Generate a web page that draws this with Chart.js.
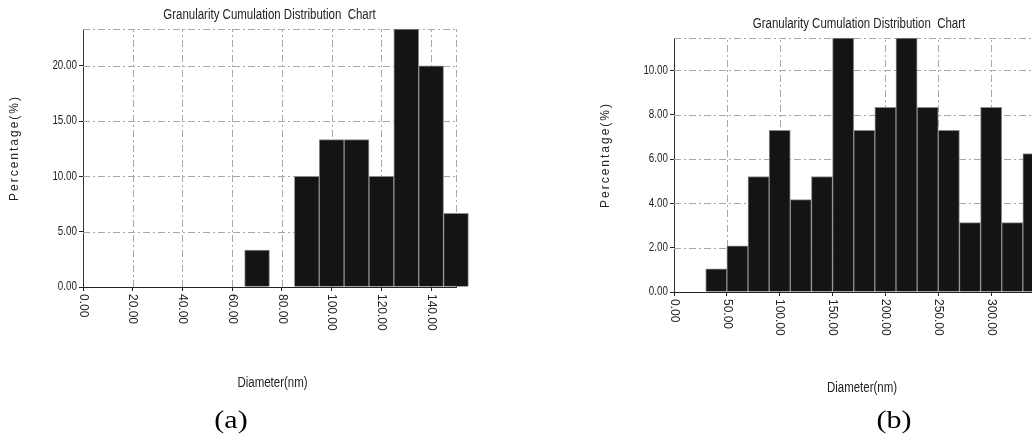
<!DOCTYPE html>
<html lang="en">
<head>
<meta charset="UTF-8">
<title>Granularity Cumulation Distribution Chart</title>
<script src="https://cdn.jsdelivr.net/npm/chart.js"></script>
<style>
  html, body { margin: 0; padding: 0; background: #fff; overflow: hidden; width: 1032px; height: 436px; }
  .panel { position: absolute; top: 0; height: 436px; }
  #panelA { left: 0; width: 510px; }
  #panelB { left: 560px; width: 520px; }
</style>
</head>
<body>
<div id="panelA" class="panel"><canvas id="chartA"></canvas></div>
<div id="panelB" class="panel"><canvas id="chartB"></canvas></div>

<script>
// bin centres (nm) and percentages
const binsA = [70, 90, 100, 110, 120, 130, 140, 150];
const valuesA = [3.33, 10.00, 13.33, 13.33, 10.00, 23.33, 20.00, 6.67];
const xTicksA = { min: 0, max: 150, step: 20 };
const yTicksA = { min: 0, max: 23.33, step: 5 };

const binsB = [40, 60, 80, 100, 120, 140, 160, 180, 200, 220, 240, 260, 280, 300, 320, 340];
const valuesB = [1.04, 2.08, 5.21, 7.29, 4.17, 5.21, 11.46, 7.29, 8.33, 11.46, 8.33, 7.29, 3.13, 8.33, 3.13, 6.25];
const xTicksB = { min: 0, max: 350, step: 50 };
const yTicksB = { min: 0, max: 11.46, step: 2 };

const chartTitle = 'Granularity Cumulation Distribution  Chart';
const xTitle = 'Diameter(nm)';
const yTitle = 'Percentage(%)';

const sans = "'Liberation Sans', Arial, sans-serif";
const serif = "'Liberation Serif', 'Times New Roman', serif";
const NARROW = 0.82;   // squeeze for the Arial Narrow look of the original

function drawText(ctx, str, x, y, font, sx, align, angle) {
    ctx.save();
    ctx.translate(x, y);
    if (angle) ctx.rotate(angle);
    ctx.scale(sx, 1);
    ctx.font = font;
    ctx.textAlign = align;
    ctx.fillText(str, 0, 0);
    ctx.restore();
}

// grid, tick labels and all the titles
const decor = {
    id: 'decor',
    beforeDatasetsDraw(chart) {
        const { ctx, chartArea: a, scales: { x, y } } = chart;
        ctx.save();
        ctx.strokeStyle = '#a8a8a8';
        ctx.lineWidth = 1;
        ctx.setLineDash([7, 3, 2, 3]);
        y.ticks.forEach(t => {
            if (t.value === 0) return;
            const py = Math.round(y.getPixelForValue(t.value)) + 0.5;
            ctx.beginPath(); ctx.moveTo(a.left, py); ctx.lineTo(a.right, py); ctx.stroke();
        });
        x.ticks.forEach(t => {
            if (t.value === 0) return;
            const px = Math.round(x.getPixelForValue(t.value)) + 0.5;
            ctx.beginPath(); ctx.moveTo(px, a.bottom); ctx.lineTo(px, a.top); ctx.stroke();
        });
        const top = Math.round(a.top) + 0.5, right = Math.round(a.right) + 0.5;
        ctx.beginPath(); ctx.moveTo(a.left, top); ctx.lineTo(a.right, top); ctx.stroke();
        ctx.beginPath(); ctx.moveTo(right, a.bottom); ctx.lineTo(right, a.top); ctx.stroke();
        ctx.restore();
    },
    afterDraw(chart, args, opts) {
        const { ctx, chartArea: a, scales: { x, y } } = chart;
        const cx = (a.left + a.right) / 2;
        ctx.save();
        ctx.fillStyle = '#222';
        ctx.textBaseline = 'middle';

        // y tick labels
        y.ticks.forEach(t => {
            drawText(ctx, t.value.toFixed(2), a.left - 6, y.getPixelForValue(t.value), '12px ' + sans, NARROW, 'right');
        });
        // x tick labels, turned clockwise
        x.ticks.forEach(t => {
            drawText(ctx, t.value.toFixed(2), x.getPixelForValue(t.value), a.bottom + 7, '12px ' + sans, 1, 'left', Math.PI / 2);
        });

        drawText(ctx, chartTitle, cx, a.top - 14, '14px ' + sans, NARROW, 'center');
        drawText(ctx, xTitle, cx + 3, a.bottom + 96, '14px ' + sans, NARROW, 'center');

        ctx.save();
        ctx.letterSpacing = '2px';
        drawText(ctx, yTitle, a.left - 68, (a.top + a.bottom) / 2 - 10, '12px ' + sans, 1, 'center', -Math.PI / 2);
        ctx.restore();

        ctx.fillStyle = '#000';
        drawText(ctx, opts.tag, opts.tagX, 421, '25px ' + serif, 1.2, 'center');
        ctx.restore();
    }
};

function makeChart(id, bins, values, xt, yt, pad, tag, tagX) {
    return new Chart(document.getElementById(id), {
        type: 'bar',
        data: {
            datasets: [{
                data: bins.map((b, i) => ({ x: b, y: values[i] })),
                backgroundColor: '#141414',
                borderColor: '#8c8c8c',
                borderWidth: 1,
                barPercentage: 1,
                categoryPercentage: 1,
                clip: false
            }]
        },
        options: {
            responsive: true,
            maintainAspectRatio: false,
            animation: false,
            layout: { padding: pad },
            plugins: {
                legend: { display: false },
                tooltip: { enabled: false },
                decor: { tag: tag, tagX: tagX }
            },
            scales: {
                x: {
                    type: 'linear',
                    offset: false,
                    min: xt.min, max: xt.max,
                    afterFit: s => { s.height = 10; },
                    ticks: { stepSize: xt.step, display: false, autoSkip: false, includeBounds: false },
                    grid: { drawOnChartArea: false, offset: false, drawTicks: true, tickLength: 4, tickColor: '#222' },
                    border: { color: '#222', width: 1 }
                },
                y: {
                    min: yt.min, max: yt.max,
                    afterFit: s => { s.width = 40; },
                    ticks: { stepSize: yt.step, includeBounds: false, display: false },
                    grid: { drawOnChartArea: false, drawTicks: true, tickLength: 4, tickColor: '#222' },
                    border: { color: '#333', width: 1 }
                }
            }
        },
        plugins: [decor]
    });
}

makeChart('chartA', binsA, valuesA, xTicksA, yTicksA, { left: 43, top: 29, right: 54, bottom: 139 }, '(a)', 231);
makeChart('chartB', binsB, valuesB, xTicksB, yTicksB, { left: 74, top: 38, right: 36, bottom: 134 }, '(b)', 334);
</script>
</body>
</html>
